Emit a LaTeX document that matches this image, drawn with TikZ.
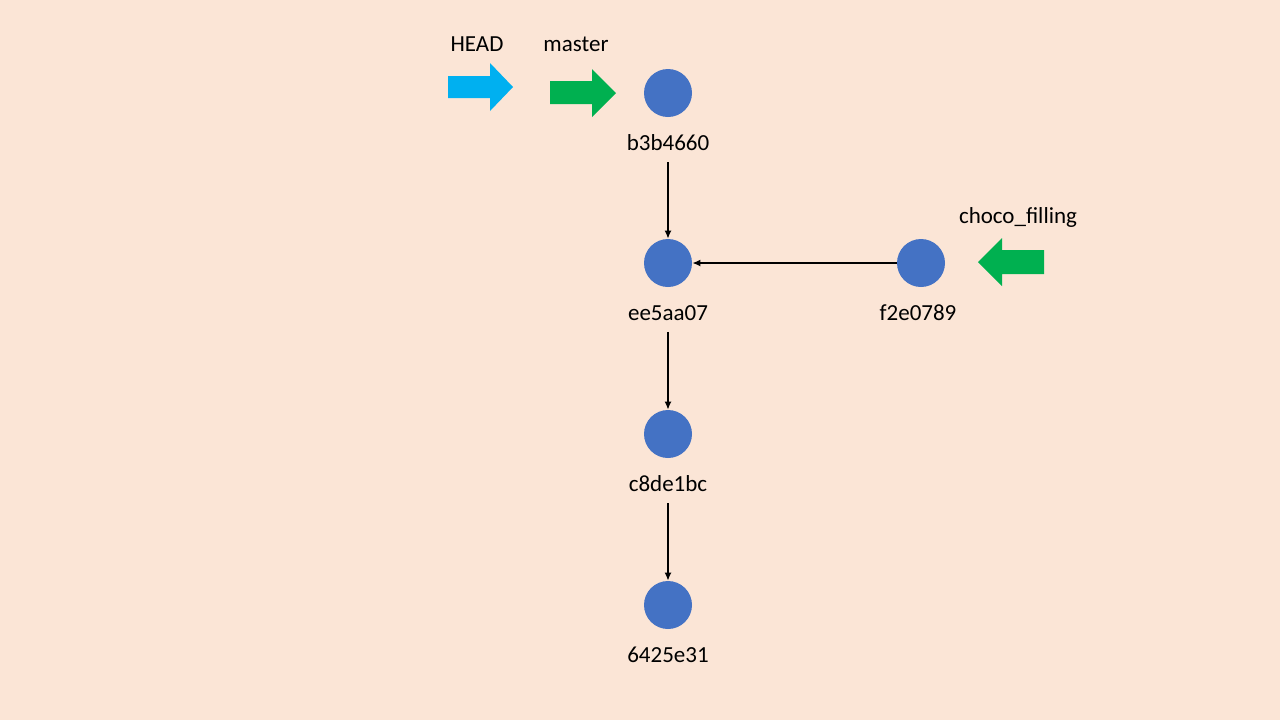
\documentclass[tikz,border=0pt]{standalone}
\usepackage{fontspec}
\setmainfont{Carlito}
\usetikzlibrary{arrows.meta}
\definecolor{bgc}{RGB}{251,229,214}
\definecolor{commitc}{RGB}{68,114,196}
\definecolor{headc}{RGB}{0,176,240}
\definecolor{branchc}{RGB}{0,176,80}
\begin{document}
\begin{tikzpicture}[x=0.5pt,y=-0.5pt,
  commit/.style={circle,fill=commitc,minimum size=24pt,inner sep=0pt},
  lbl/.style={font=\fontsize{11.5}{13}\selectfont,inner sep=1pt},
  link/.style={-{Latex[length=4pt,width=3.5pt]},line width=0.7pt,black},
  vlink/.style={link,shorten <=4.5pt}]
\fill[bgc] (0,0) rectangle (1280,720);
\useasboundingbox (0,0) rectangle (1280,720);
% commits
\node[commit] (c1) at (668,93) {};
\node[commit] (c2) at (668,263) {};
\node[commit] (c3) at (668,434) {};
\node[commit] (c4) at (668,605) {};
\node[commit] (c5) at (921,263) {};
% labels
\node[lbl] (l1) at (668,143) {b3b4660};
\node[lbl] (l2) at (668,313) {ee5aa07};
\node[lbl] (l3) at (668,484) {c8de1bc};
\node[lbl] (l4) at (668,655) {6425e31};
\node[lbl] (l5) at (918,313) {f2e0789};
\node[lbl] (lhead) at (477,44) {HEAD};
\node[lbl] (lmaster) at (576,44) {master};
\node[lbl] (lchoco) at (1018,217) {choco\_filling};
% connectors
\draw[vlink] (l1.south) -- (c2.north);
\draw[vlink] (l2.south) -- (c3.north);
\draw[vlink] (l3.south) -- (c4.north);
\draw[link] (c5.west) -- (c2.east);
% block arrows
\fill[headc] (448,76) -- (490,76) -- (490,63) -- (513,87) -- (490,111) -- (490,98) -- (448,98) -- cycle;
\fill[branchc] (550,81) -- (592,81) -- (592,69) -- (616,93) -- (592,117) -- (592,104) -- (550,104) -- cycle;
\fill[branchc] (1044,250) -- (1002,250) -- (1002,238) -- (978,262) -- (1002,286) -- (1002,274) -- (1044,274) -- cycle;
\end{tikzpicture}
\end{document}
